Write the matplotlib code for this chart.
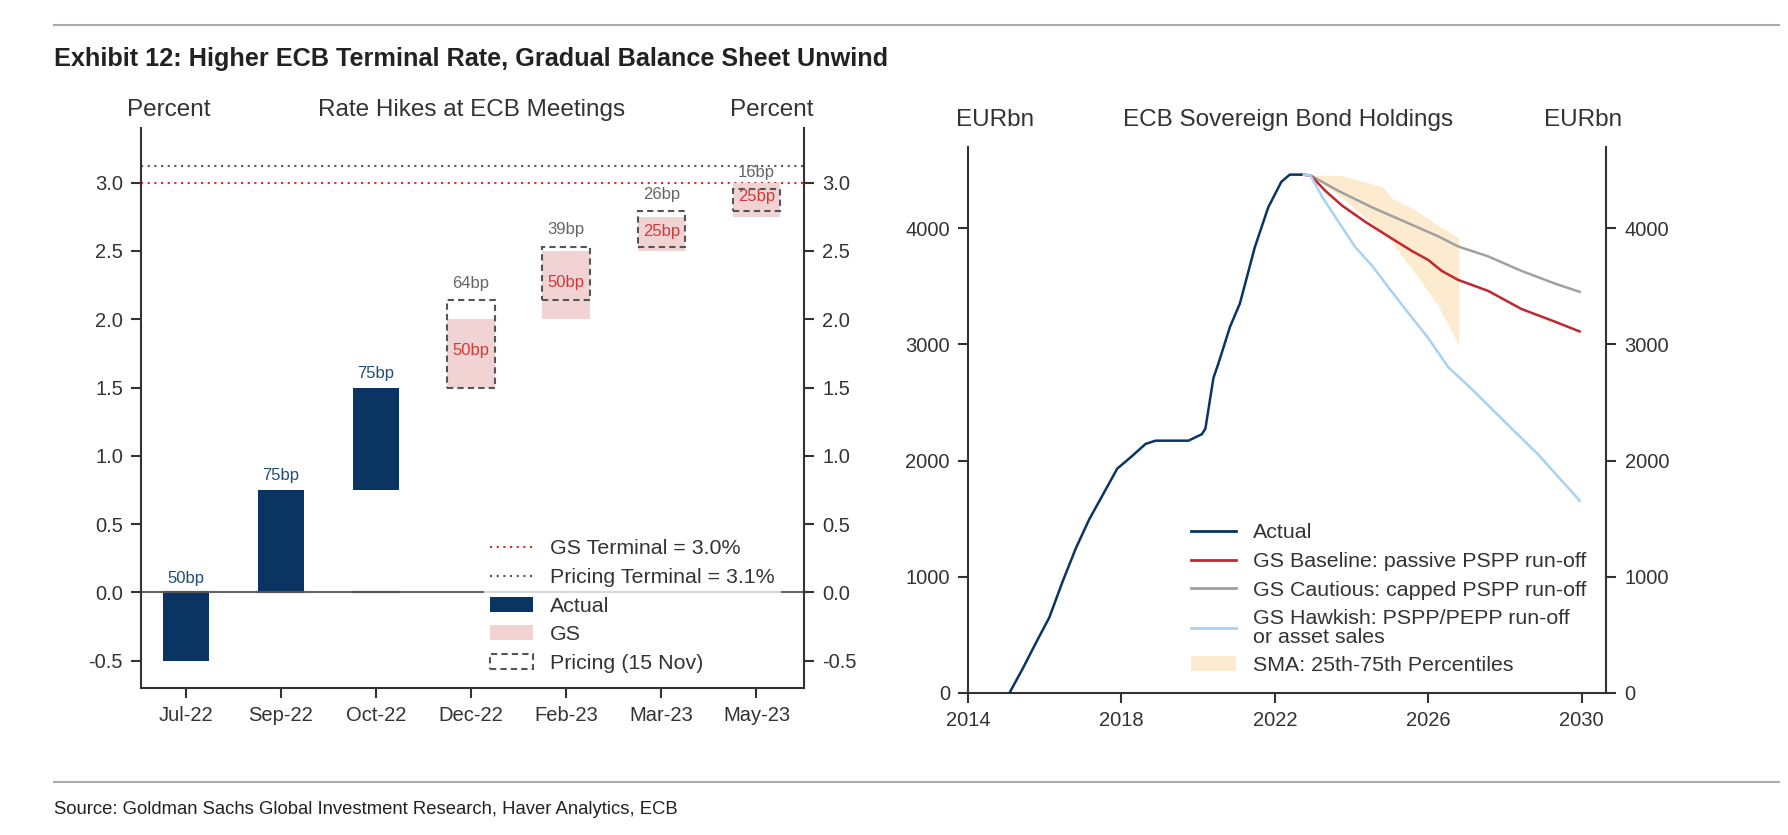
import matplotlib
matplotlib.use("Agg")
import matplotlib.pyplot as plt
from matplotlib.patches import Patch
from matplotlib.lines import Line2D

plt.rcParams['font.family'] = ['Liberation Sans', 'DejaVu Sans']
plt.rcParams['axes.unicode_minus'] = False

# ---- left panel data: rate hikes at ECB meetings (percent) ----
meetings = ['Jul-22', 'Sep-22', 'Oct-22', 'Dec-22', 'Feb-23', 'Mar-23', 'May-23']
actual_base = [0.0, 0.0, 0.75]
actual_move = [-0.50, 0.75, 0.75]
actual_text = ['50bp', '75bp', '75bp']
gs_base = [1.50, 2.00, 2.50, 2.75]
gs_move = [0.50, 0.50, 0.25, 0.25]
gs_text = ['50bp', '50bp', '25bp', '25bp']
pricing_base = [0.0, 0.0, 0.0, 1.50, 2.14, 2.53, 2.79]
pricing_move = [0.0, 0.0, 0.0, 0.64, 0.39, 0.26, 0.16]
pricing_text = ['', '', '', '64bp', '39bp', '26bp', '16bp']
gs_terminal = 3.0
pricing_terminal = 3.12

# ---- right panel data: ECB sovereign bond holdings (EURbn) ----
actual_years = [2015.08, 2015.43, 2015.77, 2016.12, 2016.47, 2016.81, 2017.16, 2017.50,
                2017.89, 2018.28, 2018.63, 2018.89, 2019.75, 2020.10, 2020.19, 2020.40,
                2020.53, 2020.83, 2021.09, 2021.48, 2021.83, 2022.17, 2022.39, 2022.69]
actual_vals = [0, 212, 431, 650, 962, 1244, 1494, 1697,
               1931, 2040, 2144, 2172, 2172, 2228, 2275, 2712,
               2837, 3150, 3353, 3838, 4181, 4400, 4462, 4462]

cautious_years = [2022.69, 2022.93, 2023.66, 2024.53, 2025.40, 2026.26, 2026.78, 2027.56, 2028.43, 2029.30, 2029.95]
cautious_vals = [4462, 4456, 4322, 4181, 4056, 3931, 3844, 3759, 3634, 3525, 3453]

baseline_years = [2022.69, 2022.93, 2023.32, 2023.75, 2024.36, 2024.96, 2025.57, 2026.00, 2026.35,
                  2026.78, 2027.56, 2028.43, 2029.30, 2029.95]
baseline_vals = [4462, 4456, 4322, 4197, 4056, 3931, 3806, 3728, 3634,
                 3556, 3462, 3306, 3197, 3112]

hawkish_years = [2022.69, 2022.93, 2023.23, 2023.66, 2024.10, 2024.53, 2024.96, 2025.40, 2026.00,
                 2026.52, 2027.13, 2027.99, 2028.86, 2029.95]
hawkish_vals = [4462, 4456, 4275, 4056, 3837, 3681, 3494, 3306, 3056,
                2806, 2619, 2337, 2056, 1656]

sma_years = [2022.93, 2023.74, 2024.82, 2025.06, 2025.60, 2026.25, 2026.80]
sma_p75 = [4456, 4456, 4355, 4256, 4170, 4028, 3915]
sma_p25 = [4456, 4265, 3960, 3880, 3640, 3340, 2990]

NAVY = '#0a3461'
DARK = '#333333'

W, H = 1788, 835
fig = plt.figure(figsize=(W / 100, H / 100), dpi=100)


def fx(px):
    return px / W


def fy(py):
    return 1 - py / H


def style_axes(ax):
    ax.spines['top'].set_visible(False)
    for s in ['left', 'right', 'bottom']:
        ax.spines[s].set_color(DARK)
        ax.spines[s].set_linewidth(1.5)
    ax.yaxis.set_ticks_position('both')
    ax.tick_params(axis='both', direction='out', length=7, width=1.5, color=DARK,
                   labelsize=14.5, labelcolor=DARK, labelright=True, pad=6)


# ================= left panel =================
ax1 = fig.add_axes([fx(141), fy(688), fx(804 - 141), (688 - 128) / H])
style_axes(ax1)
x = list(range(len(meetings)))

ax1.axhline(0, color='#666666', lw=1.5, zorder=1)
ax1.axhline(gs_terminal, color='#e02626', lw=1.5, ls=(0, (1, 2.2)), zorder=1)
ax1.axhline(pricing_terminal, color='#555555', lw=1.5, ls=(0, (1, 2.2)), zorder=1)

ax1.bar(x[:3], actual_move, bottom=actual_base, width=0.48, color=NAVY, zorder=2)
ax1.bar(x[3:], gs_move, bottom=gs_base, width=0.5, color='#f2d3d3', zorder=2)
ax1.bar(x, pricing_move, bottom=pricing_base, width=0.5, fill=False,
        edgecolor='#555555', linestyle=(0, (3, 2)), linewidth=1.5, zorder=3)

for i in range(3):
    top = max(actual_base[i], actual_base[i] + actual_move[i])
    ax1.text(x[i], top + 0.05, actual_text[i], ha='center', va='bottom',
             fontsize=12, color='#1f4e79', zorder=4)
for i in range(4):
    ax1.text(x[3 + i], gs_base[i] + gs_move[i] / 2 + 0.02, gs_text[i], ha='center', va='center',
             fontsize=12, color='#d03a3a', zorder=4)
for i in range(7):
    if pricing_text[i]:
        ax1.text(x[i], pricing_base[i] + pricing_move[i] + 0.07, pricing_text[i],
                 ha='center', va='bottom', fontsize=12, color='#666666', zorder=4)

ax1.set_xlim(-0.47, 6.5)
ax1.set_ylim(-0.70, 3.40)
ax1.set_xticks(x)
ax1.set_xticklabels(meetings)
ax1.set_yticks([-0.5, 0, 0.5, 1.0, 1.5, 2.0, 2.5, 3.0])
ax1.set_yticklabels(['-0.5', '0.0', '0.5', '1.0', '1.5', '2.0', '2.5', '3.0'])

h1 = [Line2D([], [], color='#e02626', lw=1.5, ls=(0, (1, 2.2))),
      Line2D([], [], color='#555555', lw=1.5, ls=(0, (1, 2.2))),
      Patch(facecolor=NAVY),
      Patch(facecolor='#f2d3d3'),
      Patch(facecolor='white', edgecolor='#555555', linestyle=(0, (3, 2)), linewidth=1.5)]
l1 = ['GS Terminal = 3.0%', 'Pricing Terminal = 3.1%', 'Actual', 'GS', 'Pricing (15 Nov)']
leg1 = ax1.legend(h1, l1, loc='upper left', bbox_to_anchor=(fx(484), fy(533)),
                  bbox_transform=fig.transFigure, fontsize=15.4, frameon=True,
                  framealpha=0.75, edgecolor='none', fancybox=False, borderpad=0.3,
                  borderaxespad=0, handlelength=2.0, handletextpad=0.8, labelspacing=0.45)
for t in leg1.get_texts():
    t.set_color(DARK)

# ================= right panel =================
ax2 = fig.add_axes([fx(968), fy(693), fx(1606.5 - 968), (693 - 147) / H])
style_axes(ax2)
ax2.fill_between(sma_years, sma_p25, sma_p75, color='#fcd9a0', alpha=0.5, lw=0, zorder=1)
ax2.plot(actual_years, actual_vals, color=NAVY, lw=1.8, zorder=3)
ax2.plot(cautious_years, cautious_vals, color='#a0a0a0', lw=1.8, zorder=2)
ax2.plot(baseline_years, baseline_vals, color='#c4262e', lw=1.8, zorder=2)
ax2.plot(hawkish_years, hawkish_vals, color='#a9d1f2', lw=1.8, zorder=2)
ax2.set_xlim(2014, 2030.65)
ax2.set_ylim(0, 4700)
ax2.set_xticks([2014, 2018, 2022, 2026, 2030])
ax2.set_yticks([0, 1000, 2000, 3000, 4000])

h2 = [Line2D([], [], color=NAVY, lw=2),
      Line2D([], [], color='#c4262e', lw=2),
      Line2D([], [], color='#a0a0a0', lw=2),
      Line2D([], [], color='#a9d1f2', lw=2),
      Patch(facecolor='#fcd9a0', alpha=0.5)]
l2 = ['Actual', 'GS Baseline: passive PSPP run-off', 'GS Cautious: capped PSPP run-off',
      'GS Hawkish: PSPP/PEPP run-off\nor asset sales', 'SMA: 25th-75th Percentiles']
leg2 = ax2.legend(h2, l2, loc='upper left', bbox_to_anchor=(fx(1185), fy(517)),
                  bbox_transform=fig.transFigure, fontsize=15.4, frameon=False,
                  borderpad=0.3, borderaxespad=0, handlelength=2.1, handletextpad=0.8,
                  labelspacing=0.45)
for t in leg2.get_texts():
    t.set_color(DARK)
    t.set_linespacing(0.95)

# ================= headers and frame =================
hdr = dict(fontsize=17.5, color=DARK, va='center', ha='center')
fig.text(fx(169), fy(110), 'Percent', **hdr)
fig.text(fx(472), fy(110), 'Rate Hikes at ECB Meetings', **hdr)
fig.text(fx(772), fy(110), 'Percent', **hdr)
fig.text(fx(995), fy(120), 'EURbn', **hdr)
fig.text(fx(1288), fy(120), 'ECB Sovereign Bond Holdings', **hdr)
fig.text(fx(1583), fy(120), 'EURbn', **hdr)

fig.add_artist(Line2D([fx(54), fx(1779)], [fy(25), fy(25)], color='#aaaaaa', lw=1.5))
fig.add_artist(Line2D([fx(54), fx(1779)], [fy(782), fy(782)], color='#aaaaaa', lw=1.5))

fig.text(fx(54), fy(59), 'Exhibit 12: Higher ECB Terminal Rate, Gradual Balance Sheet Unwind',
         family=['Liberation Sans Narrow', 'Liberation Sans', 'DejaVu Sans'],
         fontweight='bold', fontsize=18.2, color='#222222', va='center', ha='left')
fig.text(fx(54), fy(810), 'Source: Goldman Sachs Global Investment Research, Haver Analytics, ECB',
         family=['Liberation Sans Narrow', 'Liberation Sans', 'DejaVu Sans'],
         fontsize=13.3, color='#222222', va='center', ha='left')

fig.savefig('out.png', dpi=100)
